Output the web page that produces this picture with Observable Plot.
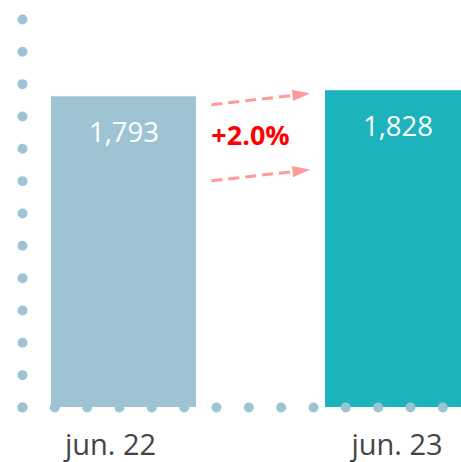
<!DOCTYPE html>
<html>
<head>
<meta charset="utf-8">
<script src="https://cdn.jsdelivr.net/npm/d3@7"></script>
<script src="https://cdn.jsdelivr.net/npm/@observablehq/plot@0.6"></script>
<style>
  html, body { margin: 0; padding: 0; background: #fff; overflow: hidden; }
</style>
</head>
<body>
<div id="chart"></div>
<script>
const months = ["jun. 22", "jun. 23"];
const values = [1793, 1828];
const barColors = ["#9ec4d4", "#1db3bc"];
// decorative dashed arrows between bars (values at start and end levels)
const arrowFrom = [1688, 1251];
const arrowTo = [1872, 1430];
const arrowTips = [1812, 1372];

const data = months.map((m, i) => ({month: m, value: values[i]}));
const arrows = arrowFrom.map((v, i) => ({from: months[0], to: months[1], y1: v, y2: arrowTo[i], tip: arrowTips[i]}));
const change = (values[1] - values[0]) / values[0] * 100;
const changeLabel = [{month: months[0], value: values[0], text: (change >= 0 ? "+" : "") + change.toFixed(1) + "%"}];

const dotColor = "#9ec4d4";
const arrowColor = "#ff9a9a";

const chart = Plot.plot({
  width: 461,
  height: 462,
  marginLeft: 22,
  marginRight: 0,
  marginTop: 19,
  marginBottom: 55,
  style: {fontFamily: "'Open Sans', sans-serif", background: "#fff"},
  x: {domain: months, range: [22, 499], paddingInner: 0.4708, paddingOuter: 0.1058, label: null},
  y: {domain: [0, 2239], axis: null, label: null},
  color: {domain: months, range: barColors},
  marks: [
    Plot.barY(data, {x: "month", y: "value", fill: "month"}),
    Plot.frame({anchor: "left", stroke: dotColor, strokeWidth: 10, strokeLinecap: "round", strokeDasharray: "0 32.33"}),
    Plot.frame({anchor: "bottom", stroke: dotColor, strokeWidth: 10, strokeLinecap: "round", strokeDasharray: "0 32.33"}),
    Plot.text(data, {x: "month", y: "value", text: d => d3.format(",")(d.value), fill: "white", fontSize: 27.5, dy: 36, lineAnchor: "middle"}),
    Plot.arrow(arrows, {x1: "from", x2: "to", y1: "y1", y2: "y2", stroke: arrowColor, strokeWidth: 3, strokeDasharray: "11 6", strokeLinecap: "butt", headLength: 0, insetStart: 88, insetEnd: 103}),
    Plot.vector(arrows, {x: "to", y: "tip", dx: -89.5, length: 16, rotate: 83.3, anchor: "end", shape: "spike", r: 5, fill: arrowColor, stroke: arrowColor, strokeWidth: 1}),
    Plot.text(changeLabel, {x: "month", y: "value", text: "text", fill: "#ff0000", fontSize: 27, fontWeight: "bold", dx: 126.5, dy: 40, lineAnchor: "middle"}),
    Plot.axisX({ticks: [months[0]], tickSize: 0, tickPadding: 27, fontSize: 29, fill: "#444", dx: -13.5, label: null}),
    Plot.axisX({ticks: [months[1]], tickSize: 0, tickPadding: 27, fontSize: 29, fill: "#444", dx: -1, label: null})
  ]
});
document.getElementById("chart").appendChild(chart);
</script>
</body>
</html>
